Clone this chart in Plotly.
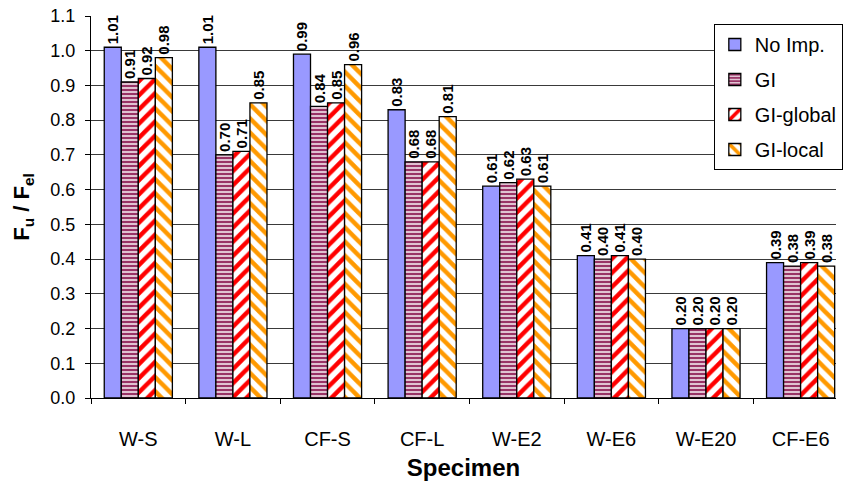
import plotly.graph_objects as go

categories = ["W-S", "W-L", "CF-S", "CF-L", "W-E2", "W-E6", "W-E20", "CF-E6"]
series_names = ["No Imp.", "GI", "GI-global", "GI-local"]
no_imp = [1.01, 1.01, 0.99, 0.83, 0.61, 0.41, 0.20, 0.39]
gi = [0.91, 0.70, 0.84, 0.68, 0.62, 0.40, 0.20, 0.38]
gi_global = [0.92, 0.71, 0.85, 0.68, 0.63, 0.41, 0.20, 0.39]
gi_local = [0.98, 0.85, 0.96, 0.81, 0.61, 0.40, 0.20, 0.38]
y_ticks = [round(i * 0.1, 1) for i in range(12)]

FONT = "Liberation Sans, Arial, sans-serif"

styles = [
    dict(color="#9999FF"),
    dict(color="white", pattern=dict(shape="-", fgcolor="#993366", bgcolor="white", fgopacity=1, size=4, solidity=0.65)),
    dict(color="white", pattern=dict(shape="/", fgcolor="#FF0000", bgcolor="white", fgopacity=1, size=10, solidity=0.45)),
    dict(color="white", pattern=dict(shape="\\", fgcolor="#FF9900", bgcolor="white", fgopacity=1, size=10, solidity=0.45)),
]

fig = go.Figure()
for i, (name, vals) in enumerate(zip(series_names, [no_imp, gi, gi_global, gi_local])):
    m = dict(styles[i])
    m["line"] = dict(color="black", width=1.3)
    fig.add_trace(go.Bar(
        x=categories, y=vals, name=name, marker=m,
        text=[f"{v:.2f}" for v in vals], texttemplate="<b>%{text}</b>",
        textposition="outside", textangle=-90, constraintext="none",
        textfont=dict(family=FONT, size=15, color="black"),
        cliponaxis=False, legendgroup=name,
    ))

fig.update_layout(
    width=843, height=485,
    margin=dict(l=91, r=0, t=16, b=87),
    paper_bgcolor="white", plot_bgcolor="white",
    barmode="group", bargap=0.28, bargroupgap=0,
    font=dict(family=FONT, color="black"),
    legend=dict(
        x=0.836, y=0.979, xanchor="left", yanchor="top",
        bgcolor="white", bordercolor="black", borderwidth=1,
        font=dict(family=FONT, size=20, color="black"),
        tracegroupgap=6, traceorder="grouped",
        itemwidth=30,
    ),
    xaxis=dict(
        type="category", range=[-0.5, 7.374],
        showline=True, linecolor="black", linewidth=1,
        ticks="outside", tickson="boundaries", ticklen=5, tickcolor="black",
        tickfont=dict(family=FONT, size=20, color="black"),
        ticklabelstandoff=23,
        title=dict(text="<b>Specimen</b>", font=dict(family=FONT, size=24, color="black"), standoff=10),
        showgrid=False,
    ),
    yaxis=dict(
        range=[0, 1.1], tickvals=y_ticks, ticktext=[f"{v:.1f}" for v in y_ticks],
        showline=True, linecolor="black", linewidth=1,
        ticks="outside", ticklen=5, tickcolor="black",
        tickfont=dict(family=FONT, size=18, color="black"),
        ticklabelstandoff=6,
        showgrid=True, gridcolor="#3a3a3a", gridwidth=1,
        zeroline=False,
        title=dict(text="<b>F<sub>u</sub> / F<sub>el</sub></b>", font=dict(family=FONT, size=22, color="black"), standoff=14),
    ),
)

fig.write_html("out.html")
